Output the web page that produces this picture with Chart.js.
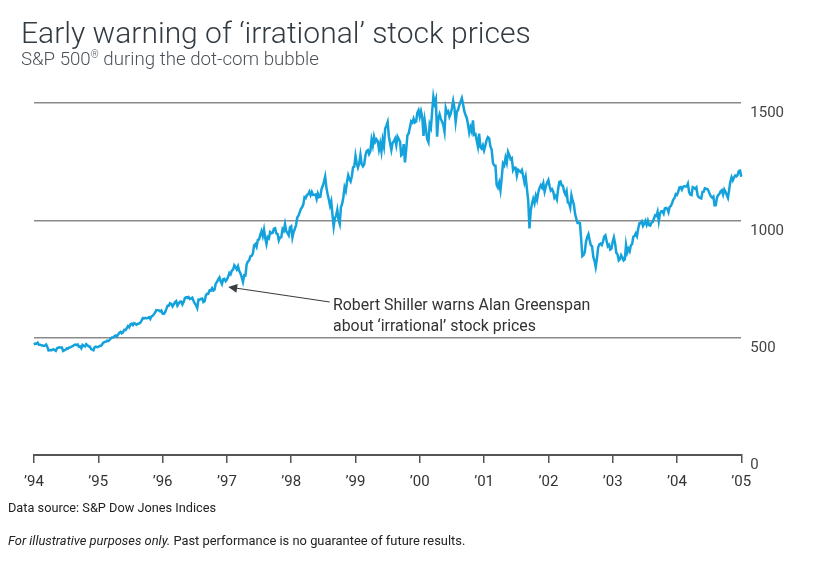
<!DOCTYPE html>
<html>
<head>
<meta charset="utf-8">
<script src="https://cdn.jsdelivr.net/npm/chart.js@4/dist/chart.umd.min.js"></script>
<style>
  html, body { margin: 0; padding: 0; background: #fff; }
  #wrap { position: relative; width: 819px; height: 562px; overflow: hidden; font-family: Roboto, "Noto Sans", sans-serif; }
  #chart { position: absolute; left: 0; top: 0; }
  .txt { position: absolute; white-space: nowrap; line-height: 1; }
  #title { left: 21px; top: 18px; font-size: 30px; font-weight: 300; color: #333b42; }
  #subtitle { left: 21px; top: 49.5px; font-size: 18.7px; font-weight: 300; color: #4a5158; }
  #note { left: 333px; top: 294px; font-size: 15.9px; line-height: 21px; color: #333; }
  #source { left: 8px; top: 502px; font-size: 12.75px; color: #222; }
  #disc { left: 8px; top: 535px; font-size: 12.9px; color: #222; }
</style>
</head>
<body>
<div id="wrap">
  <canvas id="chart" width="819" height="562"></canvas>
  <div class="txt" id="title">Early warning of ‘irrational’ stock prices</div>
  <div class="txt" id="subtitle">S&amp;P 500<sup style="font-size:10px;vertical-align:7px">®</sup> during the dot-com bubble</div>
  <div class="txt" id="note">Robert Shiller warns Alan Greenspan<br>about ‘irrational’ stock prices</div>
  <div class="txt" id="source">Data source: S&amp;P Dow Jones Indices</div>
  <div class="txt" id="disc"><i>For illustrative purposes only.</i> Past performance is no guarantee of future results.</div>
</div>
<script>
// Weekly S&P 500 closes (one array per calendar year)
const y1994 = [469.9, 474.9, 474.7, 478.7, 469.8, 470.2, 467.7, 467.1, 464.7, 466.4, 471.1, 460.6, 445.8, 447.1, 446.2, 447.6, 451.0, 447.8, 444.1, 454.9, 457.3, 458.9, 458.7, 458.5, 443.3, 446.2, 448.4, 454.2, 453.1, 458.3, 458.9, 462.3, 463.7, 469.0, 470.8, 468.2, 471.2, 462.1, 462.7, 455.1, 469.1, 464.9, 463.0, 472.3, 467.9, 462.4, 462.6, 452.3, 448.9, 446.2, 459.4, 461.6, 459.3];
const y1995 = [460.7, 465.0, 464.8, 470.4, 478.7, 481.5, 482.0, 487.4, 485.4, 489.6, 495.5, 501.0, 500.7, 506.1, 509.2, 505.6, 513.6, 520.1, 524.4, 519.2, 523.7, 533.4, 532.5, 539.8, 549.7, 544.1, 556.4, 559.9, 553.6, 562.1, 558.9, 555.1, 559.2, 560.1, 563.8, 572.7, 583.4, 581.7, 584.4, 582.6, 584.5, 587.5, 579.7, 590.6, 593.3, 599.9, 607.6, 617.7, 617.5, 616.3, 611.9, 615.9];
const y1996 = [602.7, 601.8, 608.2, 621.6, 636.0, 635.8, 647.0, 644.4, 633.5, 641.4, 650.6, 655.9, 636.7, 645.1, 653.5, 654.2, 641.6, 652.1, 668.9, 672.2, 669.1, 673.3, 665.2, 666.8, 670.6, 657.4, 646.2, 638.7, 626.6, 662.5, 662.1, 665.2, 667.0, 652.0, 655.7, 680.5, 687.0, 687.3, 701.5, 700.7, 710.8, 700.9, 705.3, 730.8, 737.6, 748.7, 757.0, 739.6, 728.6, 748.9, 751.0, 740.7];
const y1997 = [748.0, 759.5, 776.2, 770.5, 786.2, 789.6, 808.5, 801.8, 790.8, 804.3, 784.1, 773.9, 757.1, 737.7, 766.3, 765.4, 813.0, 824.8, 829.8, 847.0, 848.3, 858.0, 893.3, 898.7, 887.3, 916.9, 918.8, 938.8, 954.3, 933.5, 960.3, 924.8, 899.5, 929.1, 923.9, 950.5, 945.2, 947.3, 965.0, 966.9, 944.2, 941.6, 914.6, 927.5, 928.4, 963.1, 955.4, 983.8, 953.4, 946.8, 936.5, 970.4];
const y1998 = [975.0, 927.7, 950.7, 963.0, 980.3, 1012.5, 1020.1, 1034.2, 1049.3, 1055.7, 1068.6, 1099.2, 1095.4, 1108.2, 1110.7, 1122.7, 1107.9, 1121.0, 1108.1, 1108.7, 1110.5, 1090.8, 1113.9, 1098.8, 1100.7, 1133.8, 1146.4, 1164.3, 1186.8, 1140.8, 1112.4, 1089.5, 1062.8, 1081.2, 1027.1, 973.9, 1009.1, 1020.1, 1044.8, 1002.6, 984.6, 1056.4, 1070.7, 1098.7, 1141.0, 1125.7, 1163.6, 1192.3, 1176.7, 1166.5, 1188.0, 1226.3, 1229.2];
const y1999 = [1275.1, 1243.3, 1225.2, 1243.2, 1279.6, 1239.4, 1230.1, 1238.3, 1275.5, 1294.6, 1299.3, 1282.8, 1293.7, 1344.0, 1319.0, 1356.9, 1335.2, 1345.0, 1337.8, 1301.8, 1327.8, 1293.6, 1342.8, 1315.3, 1391.2, 1403.3, 1418.8, 1356.9, 1328.7, 1300.3, 1330.7, 1336.6, 1348.3, 1320.4, 1357.2, 1347.0, 1335.4, 1277.4, 1282.7, 1325.4, 1247.4, 1301.7, 1362.9, 1370.2, 1396.1, 1422.0, 1416.6, 1433.3, 1417.0, 1421.0, 1458.3, 1469.3];
const y2000 = [1441.5, 1465.2, 1441.4, 1360.2, 1424.4, 1387.1, 1346.1, 1333.4, 1409.2, 1395.1, 1464.5, 1527.5, 1498.6, 1516.4, 1356.6, 1434.5, 1452.4, 1432.6, 1420.9, 1406.9, 1378.0, 1477.3, 1457.0, 1464.5, 1441.5, 1454.6, 1478.9, 1509.0, 1480.2, 1419.9, 1462.9, 1471.8, 1491.7, 1506.5, 1520.8, 1494.5, 1465.8, 1449.0, 1436.5, 1408.9, 1374.2, 1396.9, 1379.6, 1426.7, 1365.0, 1367.7, 1341.8, 1315.2, 1369.9, 1312.2, 1305.9, 1320.3];
const y2001 = [1298.4, 1318.6, 1342.5, 1354.9, 1349.5, 1314.8, 1301.5, 1245.9, 1234.2, 1233.4, 1150.5, 1139.8, 1160.3, 1128.4, 1183.5, 1242.9, 1234.5, 1266.6, 1245.7, 1291.9, 1277.9, 1260.7, 1264.9, 1214.4, 1225.4, 1224.4, 1190.6, 1215.7, 1210.9, 1205.8, 1214.4, 1190.2, 1161.9, 1184.9, 1133.6, 1085.8, 965.8, 1040.9, 1071.4, 1091.7, 1073.5, 1104.6, 1087.2, 1120.3, 1138.7, 1150.3, 1139.5, 1158.3, 1123.1, 1144.9, 1161.0];
const y2002 = [1172.5, 1145.6, 1127.6, 1133.3, 1122.2, 1096.2, 1104.2, 1089.8, 1131.8, 1164.3, 1166.2, 1148.7, 1147.4, 1122.7, 1111.0, 1125.2, 1076.3, 1073.4, 1054.9, 1106.6, 1083.8, 1067.1, 1027.5, 1007.3, 989.1, 989.8, 989.0, 921.4, 847.8, 852.8, 864.2, 908.6, 928.8, 940.9, 916.1, 893.9, 889.8, 845.4, 827.4, 800.6, 835.3, 884.4, 897.7, 901.0, 894.7, 909.8, 930.6, 936.3, 912.2, 889.5, 895.8, 875.4, 879.8];
const y2003 = [908.6, 927.6, 901.8, 861.4, 855.7, 829.7, 834.9, 851.2, 841.2, 828.9, 833.3, 895.8, 863.5, 878.9, 868.3, 893.6, 898.8, 930.1, 933.4, 944.3, 933.2, 963.6, 987.8, 988.6, 995.7, 976.2, 985.7, 998.1, 981.6, 998.7, 980.2, 977.6, 990.7, 993.1, 1008.0, 1021.4, 1018.6, 1036.3, 996.9, 1029.9, 1038.7, 1039.3, 1028.9, 1050.7, 1053.2, 1050.4, 1035.3, 1058.2, 1061.5, 1074.1, 1088.7, 1095.9, 1111.9];
const y2004 = [1108.5, 1121.9, 1139.8, 1141.6, 1131.1, 1142.8, 1145.8, 1144.1, 1144.9, 1156.9, 1120.6, 1109.8, 1108.1, 1141.8, 1139.3, 1134.6, 1140.6, 1107.3, 1098.7, 1095.7, 1093.6, 1120.7, 1122.5, 1136.5, 1135.0, 1134.4, 1125.4, 1112.8, 1101.4, 1096.8, 1101.7, 1063.9, 1064.8, 1098.4, 1107.8, 1113.6, 1123.9, 1128.6, 1110.1, 1131.5, 1122.1, 1108.2, 1095.7, 1130.2, 1166.2, 1184.2, 1170.3, 1182.7, 1191.2, 1188.0, 1194.2, 1210.1, 1211.9];
const y2005 = [1186.2, 1184.5];

const years = [1994, 1995, 1996, 1997, 1998, 1999, 2000, 2001, 2002, 2003, 2004, 2005];
const yearValues = [y1994, y1995, y1996, y1997, y1998, y1999, y2000, y2001, y2002, y2003, y2004, y2005];
const yTicks = [0, 500, 1000, 1500];

// annotation arrow anchors, in data units (year, index level)
const arrowTip = { x: 1997.02, y: 716 };
const arrowTail = { x: 1998.6, y: 652 };

const points = [];
years.forEach((yr, k) => {
  const vals = yearValues[k];
  const n = yr === 2005 ? 52 : vals.length;
  vals.forEach((v, i) => points.push({ x: yr + i / n, y: v }));
});

const arrowPlugin = {
  id: 'arrow',
  afterDatasetsDraw(chart) {
    const { ctx, scales } = chart;
    const tx = scales.x.getPixelForValue(arrowTip.x), ty = scales.y.getPixelForValue(arrowTip.y);
    const sx = scales.x.getPixelForValue(arrowTail.x), sy = scales.y.getPixelForValue(arrowTail.y);
    const ang = Math.atan2(ty - sy, tx - sx);
    const L = 9, W = 4.5;
    ctx.save();
    ctx.strokeStyle = '#3a3f44';
    ctx.fillStyle = '#3a3f44';
    ctx.lineWidth = 1.1;
    ctx.beginPath();
    ctx.moveTo(sx, sy);
    ctx.lineTo(tx - Math.cos(ang) * L * 0.8, ty - Math.sin(ang) * L * 0.8);
    ctx.stroke();
    ctx.beginPath();
    ctx.moveTo(tx, ty);
    ctx.lineTo(tx - Math.cos(ang) * L - Math.sin(ang) * W, ty - Math.sin(ang) * L + Math.cos(ang) * W);
    ctx.lineTo(tx - Math.cos(ang) * L + Math.sin(ang) * W, ty - Math.sin(ang) * L - Math.cos(ang) * W);
    ctx.closePath();
    ctx.fill();
    ctx.restore();
  }
};

new Chart(document.getElementById('chart'), {
  type: 'line',
  data: {
    datasets: [{
      data: points,
      borderColor: '#14a2dc',
      borderWidth: 2.5,
      pointRadius: 0,
      tension: 0,
      clip: false
    }]
  },
  options: {
    responsive: false,
    animation: false,
    devicePixelRatio: 1,
    layout: { padding: { left: 34, right: 26, top: 89, bottom: 60 } },
    plugins: { legend: { display: false }, tooltip: { enabled: false } },
    scales: {
      x: {
        type: 'linear',
        min: 1994,
        max: 2005,
        ticks: {
          stepSize: 1,
          autoSkip: false,
          maxRotation: 0,
          padding: 10.5,
          color: '#333',
          font: { family: 'Roboto', size: 15 },
          callback: v => '’' + String(v).slice(2)
        },
        grid: { drawOnChartArea: false, drawTicks: true, tickLength: 8, color: '#555', lineWidth: 1.5 },
        border: { display: true, color: '#555', width: 2 }
      },
      y: {
        position: 'right',
        min: 0,
        max: 1560,
        afterBuildTicks: s => { s.ticks = yTicks.map(v => ({ value: v })); },
        ticks: {
          padding: 9,
          labelOffset: 10.5,
          color: '#444',
          font: { family: 'Roboto', size: 15 },
          callback: v => String(v)
        },
        grid: { drawTicks: false, color: '#8a8a8a', lineWidth: 1.5 },
        border: { display: false }
      }
    }
  },
  plugins: [arrowPlugin]
});
</script>
</body>
</html>
